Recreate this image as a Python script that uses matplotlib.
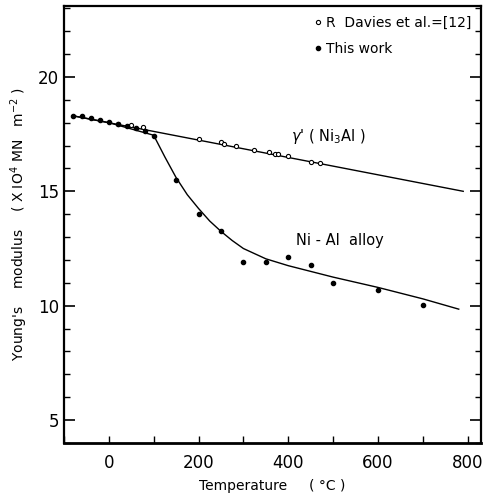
import numpy as np
from matplotlib import pyplot as plt
from matplotlib.ticker import MultipleLocator

# This work (filled points)
t_work = [-80, -60, -40, -20, 0, 20, 40, 60, 80, 100, 150, 200, 250, 300, 350, 400, 450, 500, 600, 700]
e_work = [18.3, 18.3, 18.21, 18.13, 18.03, 17.96, 17.86, 17.77, 17.64, 17.42,
          15.49, 14.0, 13.28, 11.9, 11.9, 12.11, 11.78, 10.98, 10.67, 10.03]

# R Davies et al. (open circles)
t_dav = [20, 50, 77, 202, 249, 256, 284, 323, 358, 370, 377, 400, 450, 471]
e_dav = [17.95, 17.9, 17.81, 17.30, 17.14, 17.07, 17.0, 16.82, 16.71, 16.63, 16.63, 16.54, 16.3, 16.24]

# gamma' (Ni3Al) line
t_gam = [-80, 790]
e_gam = [18.3, 15.0]

# Ni-Al alloy curve
t_alloy = [-80, 0, 100, 125, 150, 175, 200, 225, 250, 275, 300, 350, 400, 500, 600, 700, 780]
e_alloy = [18.3, 18.0, 17.45, 16.5, 15.6, 14.85, 14.25, 13.7, 13.25, 12.85, 12.5, 12.05, 11.75, 11.25, 10.8, 10.3, 9.85]

fig = plt.figure(figsize=(4.88, 4.95), dpi=100)
ax = fig.add_axes([0.131, 0.105, 0.855, 0.883])

ax.plot(t_gam, e_gam, color='black', lw=1.0)
ax.plot(t_alloy, e_alloy, color='black', lw=1.0)
ax.plot(t_dav, e_dav, 'o', ms=3.0, mfc='white', mec='black', mew=0.8, ls='none',
        label='R  Davies et al.=[12]')
ax.plot(t_work, e_work, 'o', ms=3.0, color='black', ls='none', label='This work')

ax.text(489, 17.38, r"$\gamma$' ( Ni$_3$Al )", fontsize=10.5, ha='center', va='center')
ax.text(515, 12.83, 'Ni - Al  alloy', fontsize=10.5, ha='center', va='center')

leg = ax.legend(loc='upper right', frameon=False, fontsize=10, handlelength=0.4,
                handletextpad=0.4, labelspacing=0.9, borderaxespad=0.3,
                markerfirst=True)

ax.set_xlim(-100, 830)
ax.set_ylim(4, 23.1)
ax.xaxis.set_major_locator(MultipleLocator(200))
ax.xaxis.set_minor_locator(MultipleLocator(100))
ax.set_yticks([5, 10, 15, 20])
ax.yaxis.set_minor_locator(MultipleLocator(1))

ax.tick_params(axis='both', which='both', direction='in', labelsize=12, right=True, top=False)
ax.tick_params(axis='y', which='major', length=8, width=1.2)
ax.tick_params(axis='y', which='minor', length=4, width=1.0)
ax.tick_params(axis='x', which='both', length=5, width=1.0, pad=8)

for s in ax.spines.values():
    s.set_linewidth(1.6)
ax.spines['bottom'].set_linewidth(2.0)

ax.set_xlabel('Temperature     ( °C )', fontsize=10, labelpad=5)
ax.set_ylabel(r"Young's    modulus    ( X IO$^4$ MN   m$^{-2}$ )", fontsize=10, labelpad=6)

fig.savefig('out.png', dpi=100)
